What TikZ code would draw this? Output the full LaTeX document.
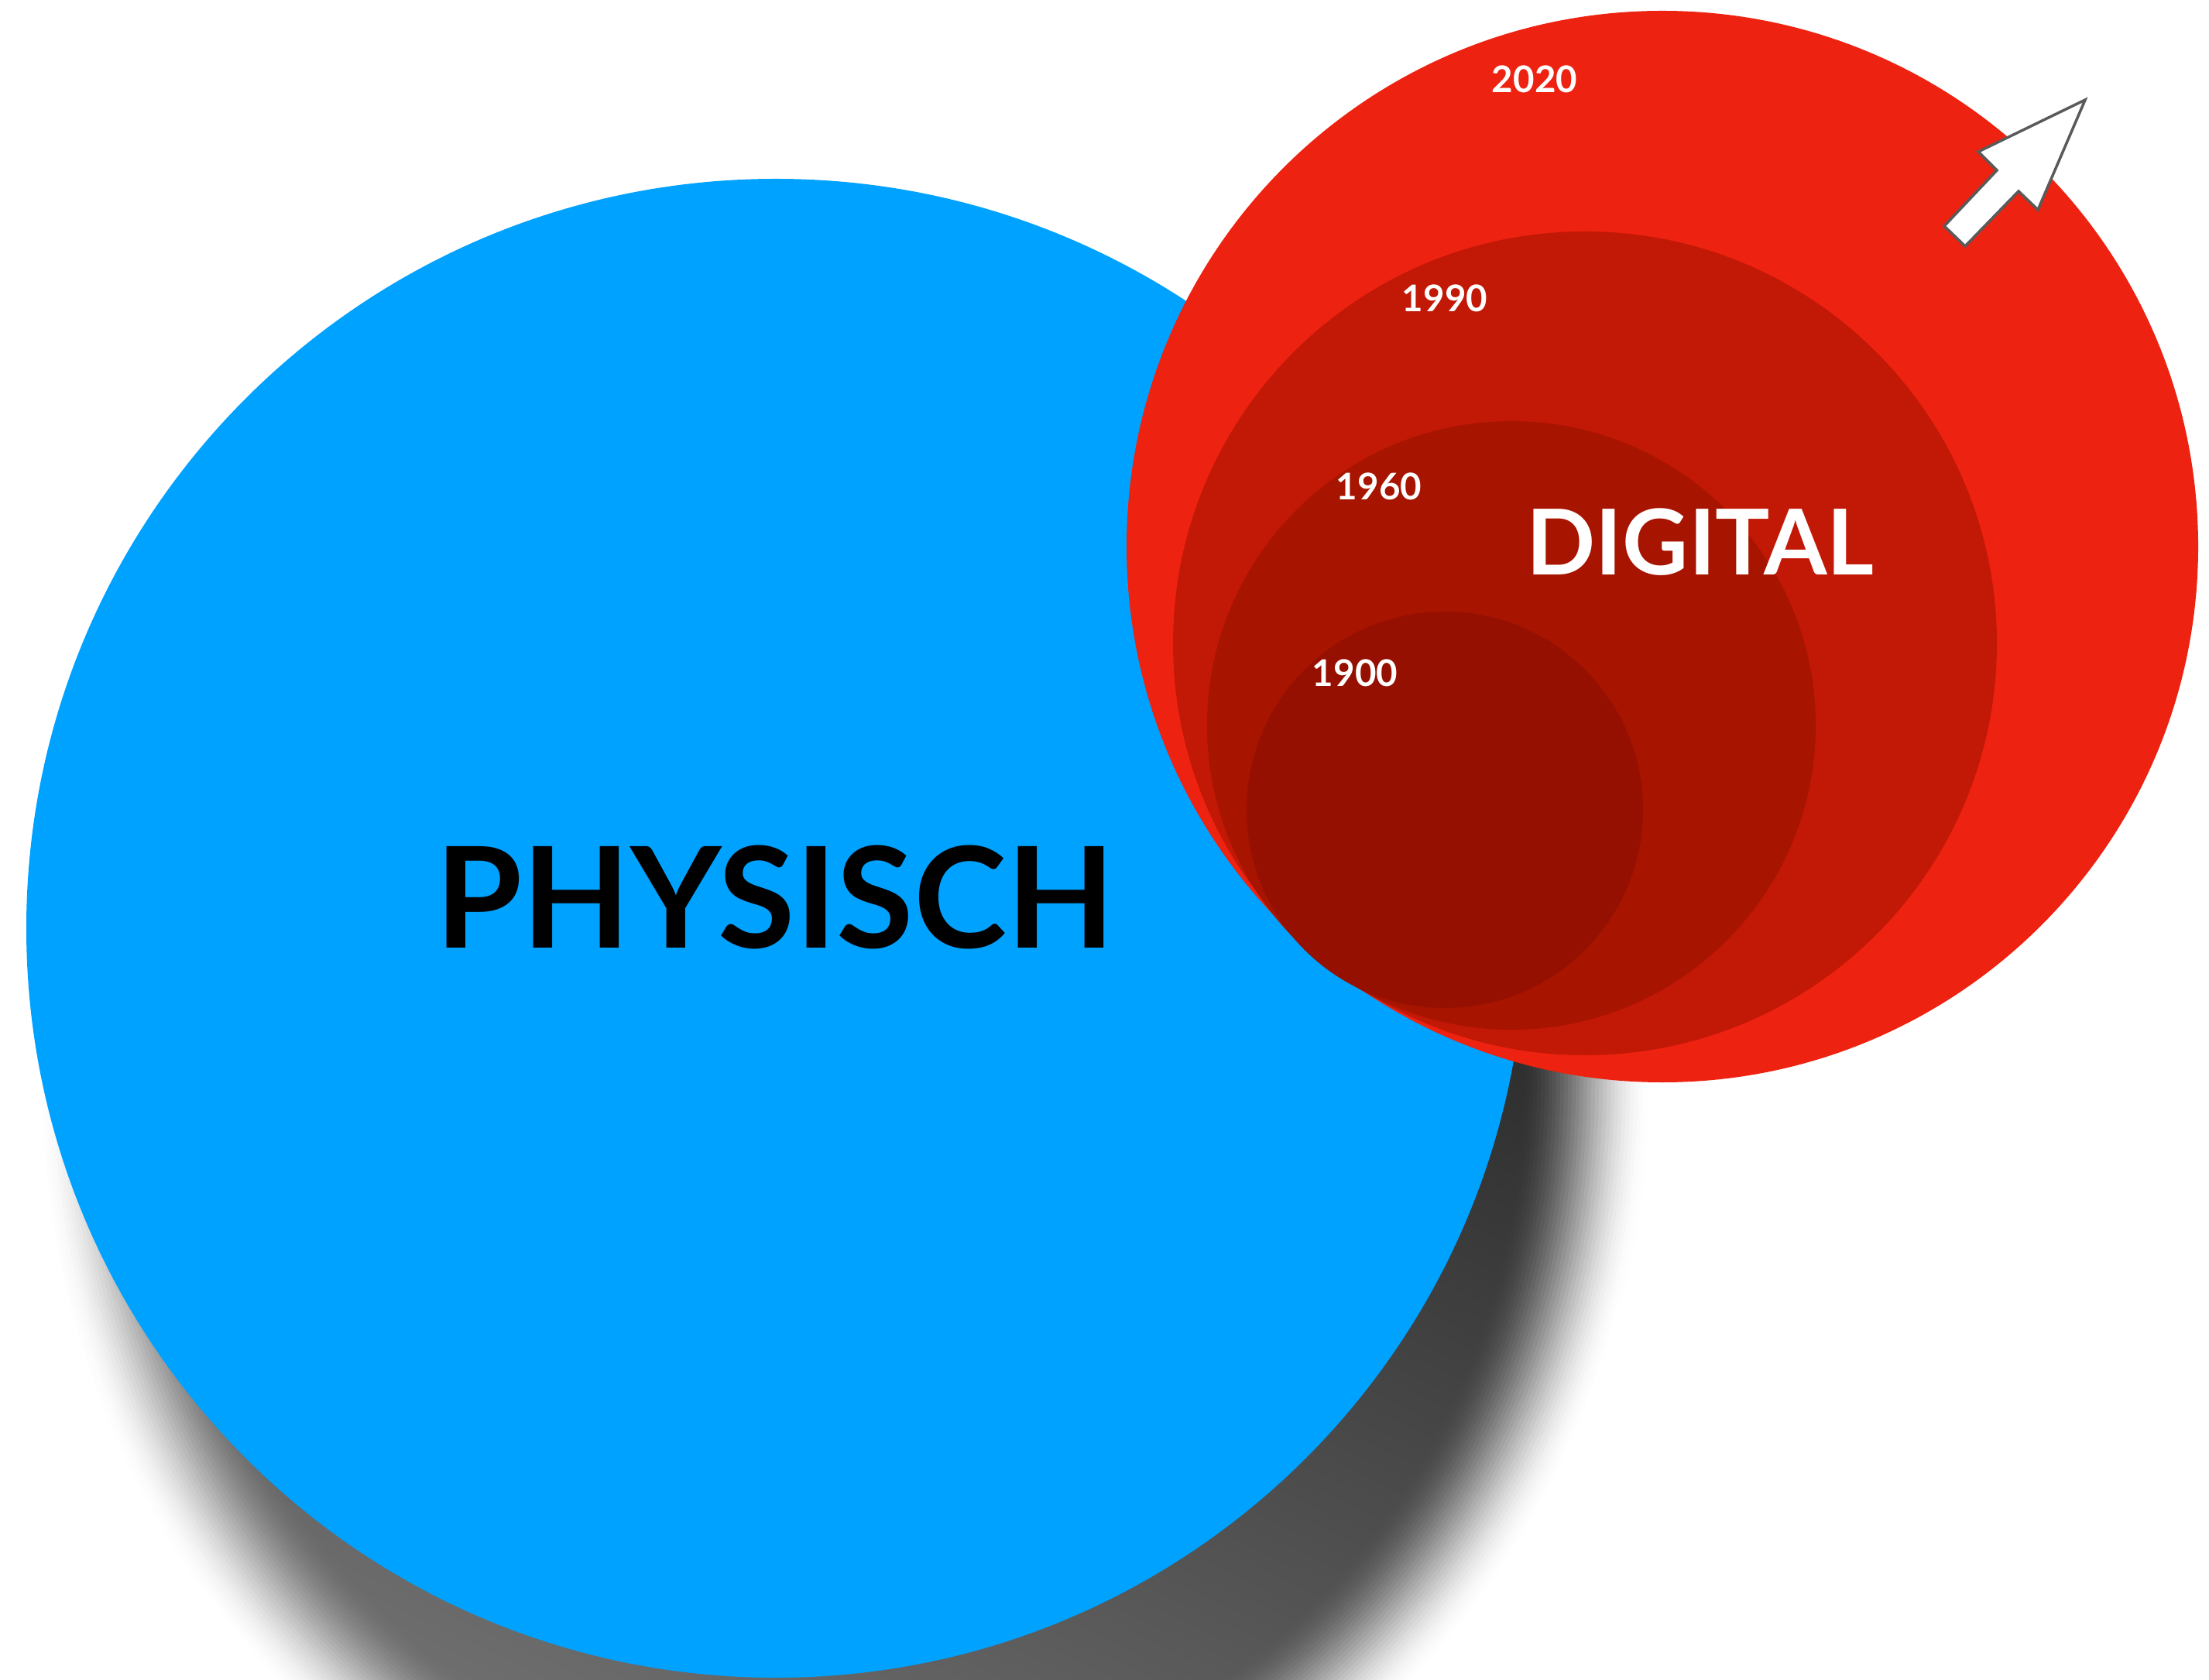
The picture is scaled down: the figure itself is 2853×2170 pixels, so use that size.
\documentclass[tikz,border=0pt]{standalone}
\usepackage{fontspec}
\setmainfont{Lato}
\definecolor{physblue}{HTML}{00A2FF}
\definecolor{redA}{HTML}{EE2210}
\definecolor{redB}{HTML}{C21806}
\definecolor{redC}{HTML}{A71400}
\definecolor{redD}{HTML}{951000}
\definecolor{shA}{HTML}{161616}
\definecolor{shB}{HTML}{6E6E6E}
\definecolor{arrgray}{HTML}{5A5A5A}
\tikzset{
  yearlabel/.style={anchor=base, text=white, font=\fontsize{13.5}{16}\selectfont\bfseries},
  biglabel/.style={anchor=base, font=\fontsize{#1}{#1}\selectfont\bfseries},
}
\begin{document}
\begin{tikzpicture}[x=0.1mm,y=0.1mm]
\useasboundingbox (0,0) rectangle (2853,-2170);
\clip (0,0) rectangle (2853,-2170);
% soft drop shadow of the blue circle
\foreach \k in {0,...,34}{
  \pgfmathsetmacro{\d}{85-5*\k}
  \pgfmathsetmacro{\s}{min(1,max(0,(\d+85)/170))}
  \pgfmathsetmacro{\p}{100*(1-(3*\s*\s-2*\s*\s*\s))}
  \shade[shading=axis, top color=shA!\p!white, bottom color=shB!\p!white, shading angle=-25]
    (1090,-1400) ellipse [x radius=960+\d, y radius=1010+\d];
}
% physical circle
\fill[physblue] (1002,-1199) circle (968);
% digital circles
\fill[redA] (2147,-706) circle (692);
\fill[redB] (2047,-831) circle (532);
\fill[redC] (1952,-937) circle (393);
\fill[redD] (1866,-1046) circle (256);
% growth arrow
\draw[fill=white, draw=arrgray, line width=0.35mm, line join=miter]
  (2693,-129) -- (2555,-196) -- (2579,-220) -- (2511,-292) -- (2538,-318) -- (2607,-247) -- (2632,-271) -- cycle;
% labels
\node[biglabel=51.6, text=black] (phys) at (1001,-1224) {PHYSISCH};
\node[biglabel=33.4, text=white] (dig) at (2196,-743) {DIGITAL};
\node[yearlabel] (y2020) at (1982,-120) {2020};
\node[yearlabel] (y1990) at (1866,-403) {1990};
\node[yearlabel] (y1960) at (1781,-646) {1960};
\node[yearlabel] (y1900) at (1750,-887) {1900};
\end{tikzpicture}
\end{document}
